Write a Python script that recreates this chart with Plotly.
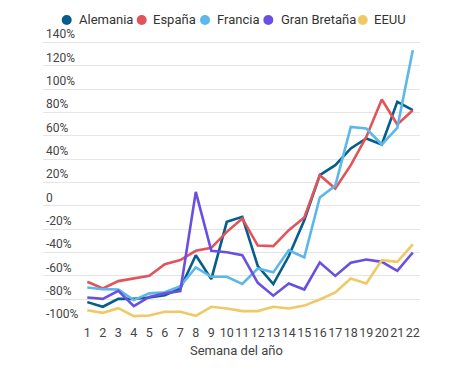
import plotly.graph_objects as go

weeks = list(range(1, 23))
series_names = ["Alemania", "España", "Francia", "Gran Bretaña", "EEUU"]
colors = ["#045d8c", "#e0545a", "#5cb8e8", "#6a4fe0", "#f0c965"]

alemania = [-82.5, -86.5, -79.7, -79.7, -78.5, -76.5, -70.8, -42.3, -62.8, -13.7, -9.4,
            -51.7, -67, -43, -12.3, 26.3, 34.9, 49.2, 57.8, 52.6, 89.1, 82]
espana = [-65, -70.8, -64.5, -62, -60, -50, -46.5, -38.5, -36, -22.3, -10.8,
          -34, -34.5, -20.8, -10, 26.3, 14.9, 34.9, 59.1, 91.2, 69.8, 82]
francia = [-70, -71.4, -71.7, -80.8, -75, -74, -68.8, -52.8, -60.8, -60.8, -67,
           -53.7, -57, -38, -44.2, 7.2, 17.3, 67.7, 66.3, 52.6, 66.9, 133.4]
gran_bretana = [-78.5, -79.7, -72.8, -86, -78, -75, -73, 12, -38.5, -39.7, -42.3,
                -66, -77, -66.5, -71.7, -48.5, -60, -48.8, -46, -48, -55.7, -40]
eeuu = [-89.4, -91.7, -87.7, -94.5, -94, -90.8, -90.8, -94.2, -86.5, -88, -90.2,
        -90.2, -86.5, -88, -85.5, -80.2, -74.2, -62.2, -66.5, -46.5, -48, -33]

y_tickvals = [140, 120, 100, 80, 60, 40, 20, 0, -20, -40, -60, -80, -100]
y_ticktext = ["140%", "120%", "100%", "80%", "60%", "40%", "20%", "0",
              "-20%", "-40%", "-60%", "-80%", "-100%"]
x_title = "Semana del año"

data = [alemania, espana, francia, gran_bretana, eeuu]

fig = go.Figure()
for name, vals, col in zip(series_names, data, colors):
    fig.add_trace(go.Scatter(x=weeks, y=vals, mode="lines", name=name,
                             line=dict(color=col, width=2.6), showlegend=False,
                             hoverinfo="skip"))

W, H = 464, 383
ml, mr, mt, mb = 43, 44, 8, 60
pw, ph = W - ml - mr, H - mt - mb
y_lo = -100.4
y_hi = y_lo + ph / (280 / 240)

def px_x(px):
    return (px - ml) / pw

def px_y(py):
    return (H - mb - py) / ph

# legend drawn as circles + text
marker_px = [66.7, 141.7, 205, 268.3, 362.7]
text_px = [79.3, 153.3, 217.3, 281, 374.3]
legend_py = 20
shapes = []
annotations = []
for name, col, mx, tx in zip(series_names, colors, marker_px, text_px):
    shapes.append(dict(type="circle", xref="paper", yref="paper",
                       xsizemode="pixel", ysizemode="pixel",
                       xanchor=px_x(mx), yanchor=px_y(legend_py),
                       x0=-5, x1=5, y0=-5, y1=5,
                       fillcolor=col, line=dict(width=0)))
    annotations.append(dict(text=name, xref="paper", yref="paper",
                            x=px_x(tx), y=px_y(legend_py), xanchor="left",
                            yanchor="middle", showarrow=False,
                            font=dict(size=13, color="#333333"), xshift=-2))

annotations.append(dict(text=x_title, xref="paper", yref="paper",
                        x=px_x(236), y=px_y(351), xanchor="center", yanchor="middle",
                        showarrow=False, font=dict(size=13, color="#444444")))

fig.update_layout(
    width=W, height=H,
    margin=dict(l=ml, r=mr, t=mt, b=mb, pad=0),
    plot_bgcolor="white", paper_bgcolor="white",
    font=dict(family="Roboto", color="#333333"),
    showlegend=False,
    shapes=shapes,
    annotations=annotations,
    xaxis=dict(range=[-1.858, 22.465], tickvals=weeks, ticktext=[str(w) for w in weeks],
               showgrid=False, zeroline=False, showline=False, ticks="",
               tickangle=0, automargin=False,
               tickfont=dict(size=12.5, color="#444444"), fixedrange=True),
    yaxis=dict(range=[y_lo, y_hi], tickvals=y_tickvals, ticktext=y_ticktext,
               showgrid=True, gridcolor="#e5e5e5", gridwidth=1, zeroline=False,
               showline=False, ticks="", ticklabelposition="inside top",
               automargin=False,
               tickfont=dict(size=12, color="#444444"), fixedrange=True),
)

fig.write_html("out.html", config={"displayModeBar": False},
               post_script="document.body.style.margin='0';")
